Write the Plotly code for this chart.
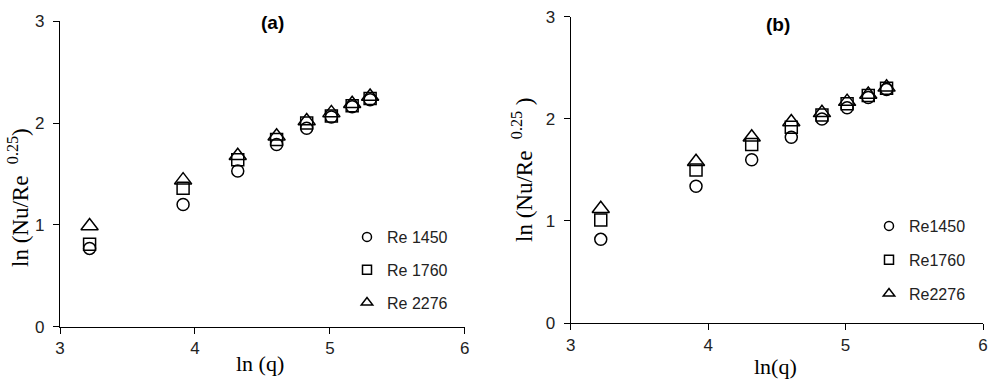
import plotly.graph_objects as go

ln_q = [3.219, 3.912, 4.317, 4.605, 4.828, 5.011, 5.165, 5.298]

# Panel (a)
a_re1450 = [0.77, 1.20, 1.53, 1.79, 1.95, 2.06, 2.16, 2.23]
a_re1760 = [0.81, 1.36, 1.64, 1.84, 2.00, 2.07, 2.17, 2.24]
a_re2276 = [0.99, 1.44, 1.68, 1.87, 2.02, 2.10, 2.19, 2.26]

# Panel (b)
b_re1450 = [0.82, 1.34, 1.60, 1.82, 2.00, 2.11, 2.21, 2.29]
b_re1760 = [1.01, 1.50, 1.75, 1.92, 2.04, 2.15, 2.23, 2.30]
b_re2276 = [1.12, 1.58, 1.82, 1.97, 2.06, 2.17, 2.24, 2.31]

names_a = ["Re 1450", "Re 1760", "Re 2276"]
names_b = ["Re1450", "Re1760", "Re2276"]
symbols = ["circle-open", "square-open", "triangle-up-open"]
sizes = [12, 12, 15]
legend_sizes = [9, 9, 10]

fig = go.Figure()

panels = [
    ([a_re1450, a_re1760, a_re2276], names_a, "x", "y", "legend"),
    ([b_re1450, b_re1760, b_re2276], names_b, "x2", "y2", "legend2"),
]
for series, names, xa, ya, lg in panels:
    for i, (ys, nm) in enumerate(zip(series, names)):
        fig.add_trace(go.Scatter(
            x=ln_q, y=ys, mode="markers", name=nm, showlegend=False,
            marker=dict(symbol=symbols[i], size=sizes[i], color="black",
                        line=dict(width=1.5, color="black")),
            xaxis=xa, yaxis=ya))
    for i, nm in enumerate(names):
        # legend entries (smaller legend symbols)
        fig.add_trace(go.Scatter(
            x=[None], y=[None], mode="markers", name=nm, showlegend=True,
            marker=dict(symbol=symbols[i], size=legend_sizes[i], color="black",
                        line=dict(width=1.5, color="black")),
            xaxis=xa, yaxis=ya, legend=lg, legendgroup=lg + str(i)))

axis_common = dict(showline=True, linecolor="black", linewidth=1.2,
                   ticks="outside", ticklen=6, tickcolor="black", tickwidth=1,
                   showgrid=False, zeroline=False, automargin=False,
                   ticklabeloverflow="allow",
                   tickfont=dict(family="Liberation Sans, Arial", size=17, color="#222"))

serif = "Liberation Serif, Times New Roman"
title_font = dict(family=serif, size=22, color="black")
legend_font = dict(family="Liberation Sans, Arial", size=16, color="#222")


def ann(text, px, py, font, angle=0):
    return dict(text=text, x=px / 989, y=1 - py / 385, xref="paper", yref="paper",
                xanchor="center", yanchor="middle", textangle=angle,
                showarrow=False, font=font)


fig.update_layout(
    width=989, height=385,
    margin=dict(l=0, r=0, t=0, b=0),
    paper_bgcolor="white", plot_bgcolor="white",
    xaxis=dict(domain=[0.0607, 0.470], range=[3, 6], dtick=1, anchor="y", **axis_common),
    yaxis=dict(domain=[0.151, 0.945], range=[0, 3], dtick=1, anchor="x",
               ticklabelstandoff=5, **axis_common),
    xaxis2=dict(domain=[0.577, 0.994], range=[3, 6], dtick=1, anchor="y2", **axis_common),
    yaxis2=dict(domain=[0.161, 0.956], range=[0, 3], dtick=1, anchor="x2",
                ticklabelstandoff=5, **axis_common),
    legend=dict(x=347/989, y=1-220/385, xanchor="left", yanchor="top",
                font=legend_font, tracegroupgap=9, itemsizing="trace",
                bgcolor="rgba(0,0,0,0)"),
    legend2=dict(x=869/989, y=1-209/385, xanchor="left", yanchor="top",
                 font=legend_font, tracegroupgap=10, itemsizing="trace",
                 bgcolor="rgba(0,0,0,0)"),
    annotations=[
        ann("<b>(a)</b>", 272, 22, dict(family="Liberation Sans, Arial", size=19, color="black")),
        ann("<b>(b)</b>", 778, 24, dict(family="Liberation Sans, Arial", size=19, color="black")),
        ann("ln (q)", 260, 363, title_font),
        ann("ln(q)", 775, 366, title_font),
        ann("ln (Nu/Re\u00a0\u00a0<sup>0.25</sup>)", 19, 198,
            dict(family=serif, size=23, color="black"), -90),
        ann("ln (Nu/Re\u00a0\u00a0<sup>0.25</sup>\u00a0)", 523, 170,
            dict(family=serif, size=23, color="black"), -90),
    ],
)

fig.write_html("out.html", config={"displayModeBar": False},
               post_script="document.body.style.margin='0';document.body.style.padding='0';")
